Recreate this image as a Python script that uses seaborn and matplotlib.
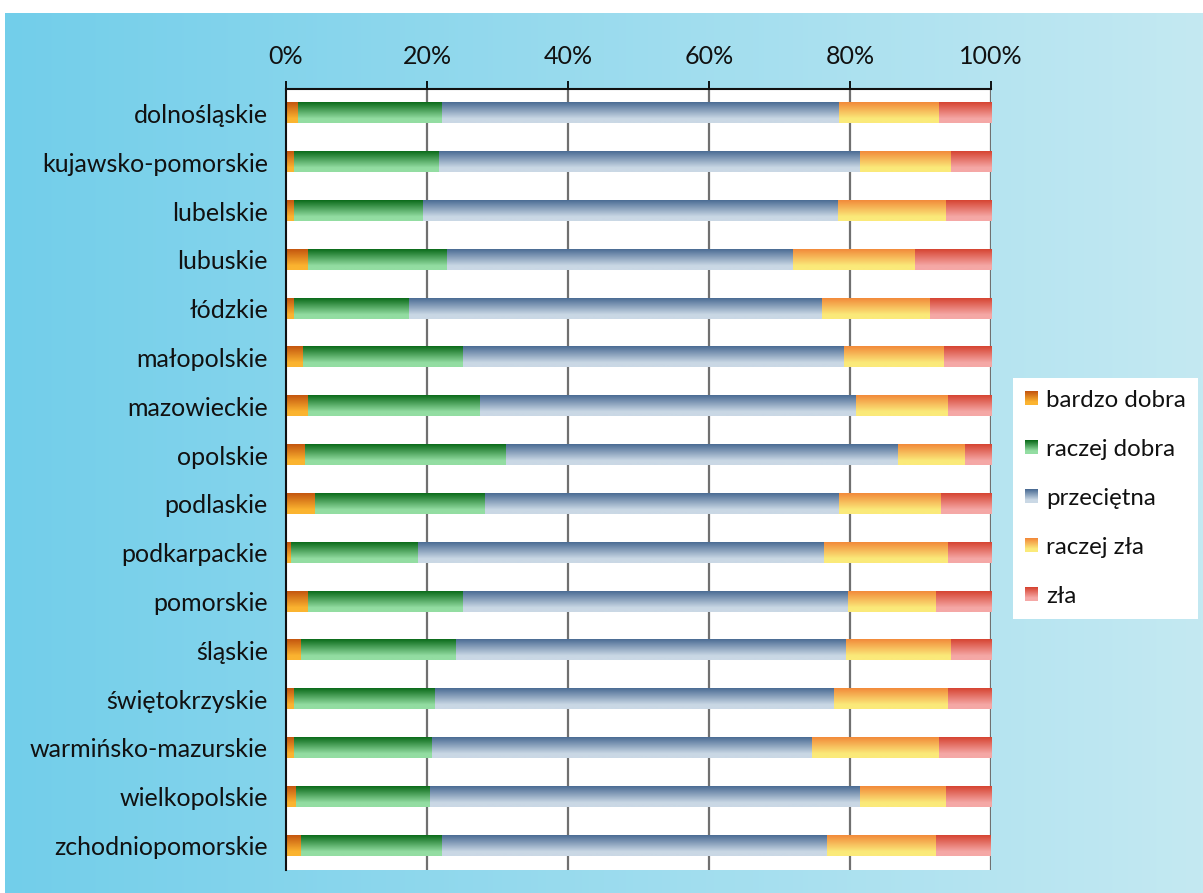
import numpy as np
import pandas as pd
import matplotlib
matplotlib.use("Agg")
import matplotlib.pyplot as plt
import matplotlib.colors as mcolors
from matplotlib.patches import Rectangle, Patch
from matplotlib.legend_handler import HandlerBase
import seaborn as sns

regions = ["dolnośląskie", "kujawsko-pomorskie", "lubelskie", "lubuskie", "łódzkie",
           "małopolskie", "mazowieckie", "opolskie", "podlaskie", "podkarpackie",
           "pomorskie", "śląskie", "świętokrzyskie", "warmińsko-mazurskie",
           "wielkopolskie", "zchodniopomorskie"]
categories = ["bardzo dobra", "raczej dobra", "przeciętna", "raczej zła", "zła"]

bardzo_dobra = [1.7, 1.1, 1.0, 3.0, 1.0, 2.4, 3.1, 2.6, 4.1, 0.7, 3.1, 2.0, 1.1, 1.1, 1.4, 2.1]
raczej_dobra = [20.4, 20.6, 18.4, 19.8, 16.4, 22.7, 24.3, 28.5, 24.0, 18.0, 22.0, 22.0, 19.9, 19.5, 18.9, 20.0]
przecietna = [56.2, 59.6, 58.8, 49.0, 58.5, 54.0, 53.4, 55.6, 50.2, 57.6, 54.6, 55.3, 56.7, 53.9, 61.0, 54.6]
raczej_zla = [14.3, 13.0, 15.3, 17.3, 15.4, 14.2, 13.1, 9.6, 14.6, 17.5, 12.4, 15.0, 16.2, 18.1, 12.2, 15.4]
zla = [7.4, 5.7, 6.5, 10.9, 8.7, 6.7, 6.1, 3.7, 7.1, 6.2, 7.9, 5.7, 6.1, 7.4, 6.5, 7.9]
x_ticks = [0, 20, 40, 60, 80, 100]
x_tick_labels = ["0%", "20%", "40%", "60%", "80%", "100%"]

grads = {
    "bardzo dobra": ("#C4560F", "#FBB430"),
    "raczej dobra": ("#0B6B1A", "#93DDA2"),
    "przeciętna": ("#4B6C94", "#CAD8E5"),
    "raczej zła": ("#F28A3A", "#FBEA7A"),
    "zła": ("#D64432", "#F5A8A6"),
}

FONT = ["Lato", "DejaVu Sans"]
sns.set_theme(style="white")
plt.rcParams["font.family"] = FONT

values = [bardzo_dobra, raczej_dobra, przecietna, raczej_zla, zla]
arr = np.array(values).T
arr = arr / arr.sum(axis=1, keepdims=True) * 100
cum = np.cumsum(arr, axis=1)
rows = []
for i, r in enumerate(regions):
    for j, c in enumerate(categories):
        rows.append({"region": r, "category": c, "cum": cum[i, j]})
df = pd.DataFrame(rows)

W, H = 1203, 893
fig = plt.figure(figsize=(W / 100, H / 100), dpi=100)
fig.patch.set_facecolor("white")

# background gradient panel
bg = fig.add_axes([5 / W, 0, 1 - 5 / W, 1 - 13 / H])
bg.set_zorder(-5)
c0 = np.array(mcolors.to_rgb("#72CEEA"))
c1 = np.array(mcolors.to_rgb("#C4E9F2"))
t = np.linspace(0, 1, 256)
bgimg = (c0[None, :] * (1 - t[:, None]) + c1[None, :] * t[:, None])[None, :, :]
bg.imshow(bgimg, aspect="auto", extent=(0, 1, 0, 1), interpolation="bilinear")
bg.set_axis_off()

ax = fig.add_axes([286 / W, 1 - 870 / H, (991 - 286) / W, (870 - 89) / H])
ax.set_facecolor("white")

hue_order = categories[::-1]
base_pal = {c: grads[c][0] for c in categories}
sns.barplot(data=df, x="cum", y="region", hue="category", hue_order=hue_order,
            order=regions, dodge=False, width=0.41, palette=base_pal,
            saturation=1, legend=False, ax=ax, orient="y", errorbar=None)


def grad_array(top, bottom, n=64, frac=0.8):
    a = np.array(mcolors.to_rgb(top))
    b = np.array(mcolors.to_rgb(bottom))
    s = np.clip(np.linspace(0, 1, n) / frac, 0, 1)
    return (a[None, :] * (1 - s[:, None]) + b[None, :] * s[:, None])[:, None, :]


col_to_cat = {mcolors.to_hex(grads[c][0]): c for c in categories}
for p in list(ax.patches):
    cat = col_to_cat.get(mcolors.to_hex(p.get_facecolor()[:3]))
    if cat is None:
        continue
    x0, y0, w, h = p.get_x(), p.get_y(), p.get_width(), p.get_height()
    z = 1.0 + 0.1 * hue_order.index(cat)
    ax.imshow(grad_array(*grads[cat]), extent=(x0, x0 + w, y0 + h, y0),
              aspect="auto", origin="upper", interpolation="bilinear", zorder=z)
    p.set_visible(False)

ax.set_xlim(0, 100)
ax.set_ylim(15.5, -0.5)
ax.set_xlabel("")
ax.set_ylabel("")
ax.set_xticks(x_ticks)
ax.set_xticklabels(x_tick_labels)
ax.xaxis.tick_top()
ax.tick_params(axis="x", which="both", top=True, bottom=False, length=6, width=1.3,
               color="black", pad=9, labelsize=18, labelcolor="#111111", direction="out")
ax.tick_params(axis="y", length=0, pad=13, labelsize=18, labelcolor="#111111")
for lab in ax.get_xticklabels() + ax.get_yticklabels():
    lab.set_family(FONT)

ax.set_axisbelow(True)
ax.grid(False)
for xv in x_ticks[1:]:
    ax.axvline(xv, color="#707070", lw=1.6, zorder=0.5)

for s in ["right", "bottom"]:
    ax.spines[s].set_visible(False)
for s in ["top", "left"]:
    ax.spines[s].set_visible(True)
    ax.spines[s].set_color("#111111")
    ax.spines[s].set_linewidth(1.5)
    ax.spines[s].set_zorder(3)


class GradHandler(HandlerBase):
    def __init__(self, top, bottom):
        super().__init__()
        self.top, self.bottom = top, bottom

    def create_artists(self, legend, orig_handle, xdescent, ydescent, width,
                       height, fontsize, trans):
        n = 14
        size = min(width, height)
        x0 = -xdescent
        y0 = -ydescent + (height - size) / 2
        g = grad_array(self.top, self.bottom, n=n)[:, 0, :]
        arts = []
        for i in range(n):
            yy = y0 + size - (i + 1) * size / n
            arts.append(Rectangle((x0, yy), size, size / n + 0.3, facecolor=g[i],
                                  edgecolor="none", transform=trans))
        return arts


handles = [Patch(label=c) for c in categories]
hmap = {h: GradHandler(*grads[c]) for h, c in zip(handles, categories)}
leg = fig.legend(handles=handles, labels=categories, handler_map=hmap,
                 loc="upper left", bbox_to_anchor=(1013 / W, 1 - 378 / H),
                 bbox_transform=fig.transFigure, frameon=True, fancybox=False,
                 framealpha=1.0,
                 prop={"family": FONT, "size": 17.3}, labelspacing=1.17,
                 handlelength=0.58, handleheight=0.58, handletextpad=0.33,
                 borderpad=0.48, borderaxespad=0)
leg.get_frame().set_facecolor("white")
leg.get_frame().set_edgecolor("none")
for txt in leg.get_texts():
    txt.set_color("#111111")

fig.savefig("out.png", dpi=100)
